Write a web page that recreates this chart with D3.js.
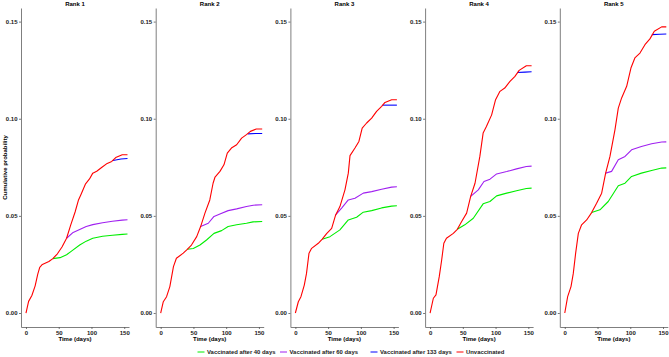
<!DOCTYPE html>
<html>
<head>
<meta charset="utf-8">
<script src="https://cdn.jsdelivr.net/npm/d3@7"></script>
<style>
  body { margin: 0; background: #fff; }
  text { font-family: "Liberation Sans", Arial, sans-serif; font-weight: bold; }
</style>
</head>
<body>
<div id="chart-area"></div>
<script>
// data, one list of [day, probability] per rank
var ranks = ["Rank 1", "Rank 2", "Rank 3", "Rank 4", "Rank 5"];

var unvaccinated = [
  [[0,0],[4,0.006],[9,0.009],[14,0.014],[18,0.02],[21,0.0235],[25,0.025],[35,0.0265],[41,0.028],[48,0.0305],[55,0.034],[62,0.0385],[68,0.045],[75,0.052],[80,0.058],[84,0.061],[91,0.0665],[97,0.069],[102,0.072],[108,0.073],[116,0.075],[124,0.077],[131,0.078],[137,0.08],[147,0.0815],[155,0.0815]],
  [[0,0],[4,0.0058],[9,0.0084],[14,0.0136],[19.5,0.0239],[24,0.0282],[34.5,0.0308],[40.6,0.0328],[47,0.035],[55,0.0393],[61,0.0445],[67.6,0.0514],[75,0.0582],[80,0.0668],[83,0.07],[90.5,0.0729],[96.6,0.0763],[101.7,0.0823],[108,0.0849],[116,0.0866],[123.6,0.09],[131,0.0918],[137,0.0935],[146,0.0947],[155,0.0947]],
  [[0,0],[4.5,0.0058],[8.5,0.0084],[13.6,0.0144],[17,0.0204],[20.8,0.0308],[24.8,0.0333],[35,0.0359],[41,0.038],[48,0.041],[55.4,0.0436],[61.5,0.0505],[68,0.0548],[75.7,0.0634],[80.8,0.072],[83.4,0.081],[91,0.0849],[97,0.0883],[102,0.0952],[108.8,0.0978],[116.5,0.1003],[124,0.1038],[131.7,0.1064],[136.8,0.1084],[147,0.1098],[155,0.1098]],
  [[0,0],[5,0.0076],[9,0.0093],[14,0.0187],[17.7,0.0273],[21,0.0359],[25,0.0385],[35.5,0.041],[41.6,0.0431],[48,0.047],[55.8,0.0514],[62,0.06],[68.6,0.0668],[76,0.0806],[81,0.0926],[86,0.096],[94,0.102],[100,0.1098],[106.7,0.1141],[114,0.1158],[122,0.1192],[129.6,0.1218],[136,0.1249],[147,0.1273],[155,0.1273]],
  [[0,0],[4.4,0.0084],[9.5,0.0136],[13,0.0204],[16.6,0.0308],[20.7,0.041],[25.7,0.0454],[33.4,0.0479],[41,0.0517],[48.6,0.0565],[56.3,0.0617],[62.4,0.072],[69,0.0806],[76.6,0.0943],[81.7,0.1055],[86.8,0.1107],[94.5,0.1167],[101,0.1261],[107,0.1313],[114.8,0.1338],[122.4,0.1381],[130,0.1411],[136.7,0.145],[147.9,0.1473],[155,0.1473]]
];

var after40 = [
  [[41,0.028],[52,0.0285],[62,0.03],[70,0.032],[82,0.035],[92,0.037],[102,0.0385],[117,0.0395],[132,0.04],[147,0.0405],[155,0.0407]],
  [[40.6,0.0328],[49.8,0.0332],[60,0.035],[70,0.0376],[81.4,0.041],[93,0.0424],[103,0.0445],[116,0.0454],[131,0.0462],[141,0.0469],[155,0.0471]],
  [[41,0.038],[52.8,0.0393],[68,0.0428],[80.8,0.0479],[93.5,0.0493],[103.7,0.0519],[116.5,0.0527],[131.7,0.0541],[147,0.055],[155,0.0552]],
  [[41.6,0.0431],[53,0.0454],[66,0.0488],[81,0.0562],[91.4,0.0574],[101.6,0.0603],[117,0.0617],[132,0.0629],[147,0.0641],[155,0.0643]],
  [[41,0.0517],[53.7,0.0531],[66.4,0.0574],[81.7,0.0655],[92,0.0668],[102,0.0703],[117,0.072],[132.6,0.0734],[148,0.0746],[155,0.0747]]
];

var after60 = [
  [[62,0.0385],[72,0.0415],[82,0.043],[92,0.0445],[102,0.0455],[117,0.0465],[132,0.0472],[147,0.0478],[155,0.048]],
  [[61,0.0445],[72.7,0.0462],[81.4,0.0497],[90.5,0.051],[103,0.0527],[116,0.0536],[131,0.0548],[141.4,0.0555],[155,0.0557]],
  [[61.5,0.0505],[70.6,0.054],[80.8,0.0582],[91,0.0591],[103.7,0.0617],[116.5,0.0625],[131.7,0.0637],[147,0.0648],[155,0.065]],
  [[62,0.06],[73.6,0.0634],[82.3,0.0677],[91.5,0.0689],[101.6,0.0716],[117,0.0728],[132,0.0742],[147,0.0754],[155,0.0756]],
  [[62.4,0.072],[71.5,0.0729],[81.7,0.0789],[92,0.0806],[102,0.084],[117,0.0857],[132.6,0.0871],[148,0.088],[155,0.0881]]
];

var after133 = [
  [[133,0.0785],[145,0.0793],[155,0.0795]],
  [[133,0.0922],[145,0.0924],[155,0.0924]],
  [[133,0.107],[145,0.107],[155,0.107]],
  [[133,0.1238],[145,0.124],[155,0.1242]],
  [[133,0.1433],[145,0.1435],[155,0.1436]]
];

var seriesNames = ["Vaccinated after 40 days", "Vaccinated after 60 days", "Vaccinated after 133 days", "Unvaccinated"];
var seriesColors = ["#00ee00", "#a020f0", "#0000ff", "#ff0000"];
var seriesData = [after40, after60, after133, unvaccinated];

var yTicks = [0, 0.05, 0.10, 0.15];
var xTicks = [0, 50, 100, 150];

var width = 669, height = 357;
var panelWidth = 108, panelStep = 134.7, firstLeft = 21;
var plotTop = 8, plotBottom = 327;

var svg = d3.select("#chart-area")
  .append("svg")
  .attr("width", width)
  .attr("height", height);

var y = d3.scaleLinear()
  .domain([-0.0072, 0.157])
  .range([plotBottom, plotTop]);

ranks.forEach(function(rank, i){
  var left = firstLeft + i * panelStep;
  var x = d3.scaleLinear()
    .domain([-7.6, 157.3])
    .range([left, left + panelWidth]);

  var g = svg.append("g").attr("class", "panel");

  // axes
  var yAxis = d3.axisLeft(y)
    .tickValues(yTicks)
    .tickFormat(d3.format(".2f"))
    .tickSizeInner(2)
    .tickSizeOuter(0)
    .tickPadding(1.5);
  var yg = g.append("g")
    .attr("transform", "translate(" + left + ",0)")
    .call(yAxis);

  var xAxis = d3.axisBottom(x)
    .tickValues(xTicks)
    .tickSizeInner(2)
    .tickSizeOuter(0)
    .tickPadding(1.5);
  var xg = g.append("g")
    .attr("transform", "translate(0," + plotBottom + ")")
    .call(xAxis);

  [yg, xg].forEach(function(a){
    a.select(".domain").attr("stroke", "#7f7f7f").attr("stroke-width", 1);
    a.selectAll(".tick line").attr("stroke", "#555").attr("stroke-width", 0.8);
    a.selectAll("text")
      .attr("fill", "#1a1a1a")
      .style("font-size", "6px")
      .style("font-family", "'Liberation Sans', Arial, sans-serif")
      .style("font-weight", "bold");
  });

  // curves
  var line = d3.line()
    .x(function(d){ return x(d[0]); })
    .y(function(d){ return y(d[1]); });

  seriesData.forEach(function(s, k){
    g.append("path")
      .datum(s[i])
      .attr("fill", "none")
      .attr("stroke", seriesColors[k])
      .attr("stroke-width", 1.1)
      .attr("stroke-linejoin", "round")
      .attr("d", line);
  });

  // titles
  g.append("text")
    .attr("x", left + panelWidth / 2)
    .attr("y", 6)
    .attr("text-anchor", "middle")
    .style("font-size", "6px")
    .text(rank);

  g.append("text")
    .attr("x", left + panelWidth / 2)
    .attr("y", 341)
    .attr("text-anchor", "middle")
    .style("font-size", "6px")
    .text("Time (days)");
});

svg.append("text")
  .attr("transform", "translate(7," + ((plotTop + plotBottom) / 2) + ") rotate(-90)")
  .attr("text-anchor", "middle")
  .style("font-size", "6px")
  .text("Cumulative probability");

// legend
var legendX = [197.5, 280, 370.5, 456.5];
var legend = svg.append("g").attr("class", "legend");
seriesNames.forEach(function(name, k){
  legend.append("line")
    .attr("x1", legendX[k]).attr("x2", legendX[k] + 7)
    .attr("y1", 352).attr("y2", 352)
    .attr("stroke", seriesColors[k])
    .attr("stroke-width", 1);
  legend.append("text")
    .attr("x", legendX[k] + 9.5)
    .attr("y", 354.2)
    .style("font-size", "5.9px")
    .attr("fill", "#1a1a1a")
    .text(name);
});
</script>
</body>
</html>
